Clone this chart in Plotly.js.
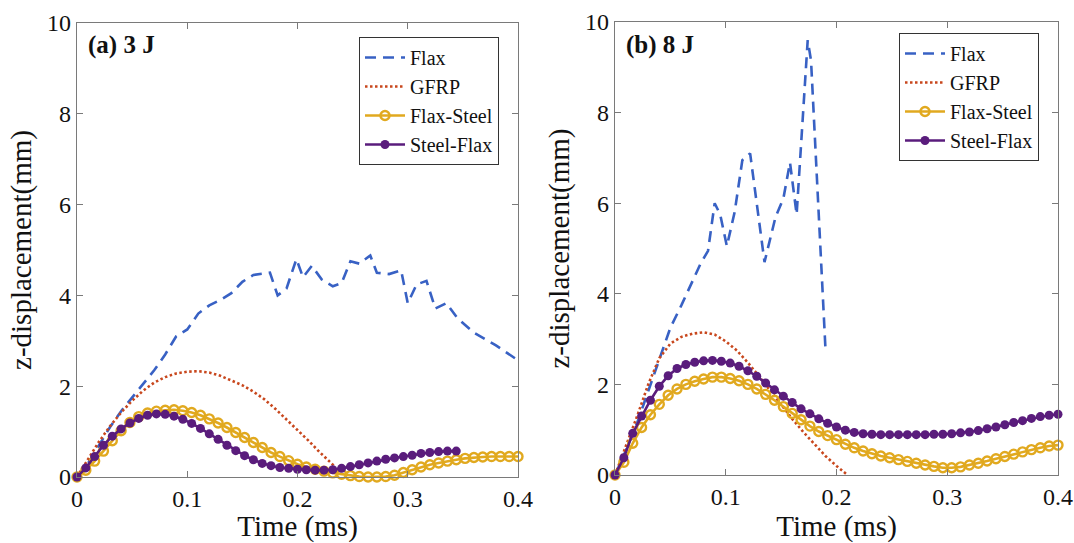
<!DOCTYPE html>
<html>
<head>
<meta charset="utf-8">
<script src="https://cdn.plot.ly/plotly-3.0.1.min.js"></script>
<style>html,body{margin:0;padding:0;background:#fff;}#chart{width:1074px;height:543px;}</style>
</head>
<body>
<div id="chart"></div>
<script>
// ---------- Data: (a) 3 J ----------
const flaxA_t = [0, 0.01, 0.02, 0.03, 0.04, 0.05, 0.06, 0.07, 0.08, 0.09, 0.1, 0.11, 0.12, 0.13, 0.14, 0.15, 0.16, 0.175, 0.182, 0.19, 0.199, 0.205, 0.213, 0.222, 0.232, 0.24, 0.248, 0.256, 0.266, 0.272, 0.283, 0.294, 0.3, 0.308, 0.317, 0.325, 0.335, 0.345, 0.36, 0.38, 0.4];
const flaxA_z = [0, 0.3, 0.7, 1.1, 1.45, 1.75, 2.05, 2.35, 2.7, 3.1, 3.25, 3.6, 3.78, 3.9, 4.05, 4.3, 4.45, 4.5, 4.0, 4.15, 4.8, 4.4, 4.65, 4.35, 4.2, 4.27, 4.75, 4.7, 4.88, 4.5, 4.47, 4.55, 3.83, 4.24, 4.32, 3.71, 3.83, 3.5, 3.18, 2.9, 2.57];

const gfrpA_t = [0, 0.01, 0.02, 0.03, 0.04, 0.05, 0.06, 0.07, 0.08, 0.09, 0.1, 0.11, 0.12, 0.13, 0.14, 0.15, 0.16, 0.17, 0.18, 0.19, 0.2, 0.21, 0.22, 0.233];
const gfrpA_z = [0, 0.4, 0.78, 1.12, 1.42, 1.68, 1.9, 2.08, 2.2, 2.28, 2.32, 2.33, 2.3, 2.23, 2.13, 2.02, 1.88, 1.71, 1.5, 1.27, 1.02, 0.8, 0.55, 0.25];

const timeA_fs = [0, 0.008, 0.016, 0.024, 0.032, 0.04, 0.048, 0.056, 0.064, 0.072, 0.08, 0.088, 0.096, 0.104, 0.112, 0.12, 0.128, 0.136, 0.144, 0.152, 0.16, 0.168, 0.176, 0.184, 0.192, 0.2, 0.208, 0.216, 0.224, 0.232, 0.24, 0.248, 0.256, 0.264, 0.272, 0.28, 0.288, 0.296, 0.304, 0.312, 0.32, 0.328, 0.336, 0.344, 0.352, 0.36, 0.368, 0.376, 0.384, 0.392, 0.4];
const flaxSteelA_z = [0, 0.15, 0.35, 0.57, 0.8, 1.02, 1.2, 1.33, 1.41, 1.45, 1.47, 1.48, 1.46, 1.42, 1.36, 1.28, 1.19, 1.09, 0.98, 0.87, 0.76, 0.65, 0.54, 0.45, 0.36, 0.28, 0.22, 0.17, 0.13, 0.09, 0.06, 0.03, 0.01, 0.0, 0.0, 0.01, 0.04, 0.1, 0.16, 0.22, 0.27, 0.31, 0.35, 0.38, 0.41, 0.43, 0.44, 0.45, 0.45, 0.45, 0.45];

const timeA_sf = [0, 0.008, 0.016, 0.024, 0.032, 0.04, 0.048, 0.056, 0.064, 0.072, 0.08, 0.088, 0.096, 0.104, 0.112, 0.12, 0.128, 0.136, 0.144, 0.152, 0.16, 0.168, 0.176, 0.184, 0.192, 0.2, 0.208, 0.216, 0.224, 0.232, 0.24, 0.248, 0.256, 0.264, 0.272, 0.28, 0.288, 0.296, 0.304, 0.312, 0.32, 0.328, 0.336, 0.344];
const steelFlaxA_z = [0, 0.2, 0.45, 0.7, 0.9, 1.06, 1.19, 1.29, 1.36, 1.39, 1.38, 1.34, 1.27, 1.18, 1.07, 0.95, 0.83, 0.7, 0.58, 0.47, 0.38, 0.3, 0.25, 0.21, 0.19, 0.17, 0.16, 0.15, 0.15, 0.16, 0.19, 0.23, 0.27, 0.31, 0.35, 0.39, 0.42, 0.45, 0.48, 0.52, 0.54, 0.56, 0.57, 0.57];

// ---------- Data: (b) 8 J ----------
const flaxB_t = [0, 0.01, 0.02, 0.03, 0.04, 0.05, 0.06, 0.07, 0.077, 0.084, 0.09, 0.095, 0.101, 0.108, 0.115, 0.122, 0.135, 0.145, 0.152, 0.158, 0.164, 0.174, 0.177, 0.19];
const flaxB_z = [0, 0.55, 1.15, 1.85, 2.55, 3.25, 3.75, 4.3, 4.65, 4.95, 6.0, 5.75, 5.05, 5.8, 6.95, 7.1, 4.7, 5.7, 6.1, 6.9, 5.75, 9.6, 9.15, 2.8];

const gfrpB_t = [0, 0.01, 0.02, 0.03, 0.04, 0.05, 0.06, 0.07, 0.08, 0.09, 0.1, 0.11, 0.12, 0.13, 0.14, 0.15, 0.16, 0.17, 0.18, 0.19, 0.2, 0.21];
const gfrpB_z = [0, 0.65, 1.3, 2.0, 2.58, 2.9, 3.05, 3.12, 3.15, 3.1, 2.95, 2.75, 2.48, 2.18, 1.86, 1.55, 1.24, 0.95, 0.68, 0.42, 0.2, 0];

const timeB = [0, 0.008, 0.016, 0.024, 0.032, 0.04, 0.048, 0.056, 0.064, 0.072, 0.08, 0.088, 0.096, 0.104, 0.112, 0.12, 0.128, 0.136, 0.144, 0.152, 0.16, 0.168, 0.176, 0.184, 0.192, 0.2, 0.208, 0.216, 0.224, 0.232, 0.24, 0.248, 0.256, 0.264, 0.272, 0.28, 0.288, 0.296, 0.304, 0.312, 0.32, 0.328, 0.336, 0.344, 0.352, 0.36, 0.368, 0.376, 0.384, 0.392, 0.4];
const flaxSteelB_z = [0, 0.28, 0.7, 1.05, 1.33, 1.56, 1.76, 1.9, 2.0, 2.07, 2.12, 2.16, 2.16, 2.13, 2.08, 2.0, 1.9, 1.78, 1.65, 1.51, 1.36, 1.22, 1.08, 0.96, 0.87, 0.78, 0.68, 0.6, 0.53, 0.47, 0.42, 0.38, 0.34, 0.3, 0.26, 0.22, 0.19, 0.16, 0.16, 0.18, 0.22, 0.26, 0.31, 0.36, 0.41, 0.46, 0.51, 0.56, 0.6, 0.64, 0.66];
const steelFlaxB_z = [0, 0.38, 0.92, 1.3, 1.65, 1.96, 2.19, 2.35, 2.44, 2.49, 2.52, 2.53, 2.51, 2.47, 2.4, 2.3, 2.18, 2.03, 1.88, 1.74, 1.6, 1.46, 1.35, 1.24, 1.14, 1.06, 0.99, 0.94, 0.91, 0.9, 0.89, 0.89, 0.89, 0.89, 0.89, 0.89, 0.9, 0.9, 0.91, 0.93, 0.95, 0.98, 1.02, 1.06, 1.11, 1.16, 1.2, 1.25, 1.29, 1.32, 1.34];

const seriesNames = ['Flax', 'GFRP', 'Flax-Steel', 'Steel-Flax'];
const panelLabels = ['<b>(a) 3 J</b>', '<b>(b) 8 J</b>'];
const xTitle = 'Time (ms)';
const yTitle = 'z-displacement(mm)';

// ---------- Styles ----------
const FONT = '"Liberation Serif", "DejaVu Serif", serif';
const C_BLUE = '#3861c4', C_RED = '#c8471d', C_GOLD = '#e1a91f', C_PURPLE = '#5a1c7c';

function makeTraces(xa, ya, leg, fl, gf, fs, sf) {
  return [
    {x: fl[0], y: fl[1], name: seriesNames[0], xaxis: xa, yaxis: ya, legend: leg, mode: 'lines', cliponaxis: false,
     line: {color: C_BLUE, width: 2.6, dash: '11px,7px'}},
    {x: gf[0], y: gf[1], name: seriesNames[1], xaxis: xa, yaxis: ya, legend: leg, mode: 'lines', cliponaxis: false,
     line: {color: C_RED, width: 2.6, dash: '2.5px,2.5px'}},
    {x: fs[0], y: fs[1], name: seriesNames[2], xaxis: xa, yaxis: ya, legend: leg, mode: 'lines+markers', cliponaxis: false,
     line: {color: C_GOLD, width: 2.6},
     marker: {symbol: 'circle-open', size: 9, color: C_GOLD, line: {width: 2.4, color: C_GOLD}}},
    {x: sf[0], y: sf[1], name: seriesNames[3], xaxis: xa, yaxis: ya, legend: leg, mode: 'lines+markers', cliponaxis: false,
     line: {color: C_PURPLE, width: 2.6},
     marker: {symbol: 'circle', size: 9, color: C_PURPLE}}
  ];
}

const data = [].concat(
  makeTraces('x', 'y', 'legend', [flaxA_t, flaxA_z], [gfrpA_t, gfrpA_z], [timeA_fs, flaxSteelA_z], [timeA_sf, steelFlaxA_z]),
  makeTraces('x2', 'y2', 'legend2', [flaxB_t, flaxB_z], [gfrpB_t, gfrpB_z], [timeB, flaxSteelB_z], [timeB, steelFlaxB_z])
);

const W = 1074, H = 543;
function xAxis(domain, anchor) {
  return {domain: domain, anchor: anchor, range: [0, 0.4], dtick: 0.1, tick0: 0,
    showgrid: false, zeroline: false, showline: true, mirror: 'ticks', linecolor: '#7a7a7a', linewidth: 1.2,
    ticks: 'inside', ticklen: 6, tickcolor: '#7a7a7a', tickwidth: 1,
    tickfont: {family: FONT, size: 24, color: '#111'},
    title: {text: xTitle, font: {family: FONT, size: 29, color: '#111'}, standoff: 2}};
}
function yAxis(domain, anchor) {
  return {domain: domain, anchor: anchor, range: [0, 10], dtick: 2, tick0: 0,
    showgrid: false, zeroline: false, showline: true, mirror: 'ticks', linecolor: '#7a7a7a', linewidth: 1.2,
    ticks: 'inside', ticklen: 6, tickcolor: '#7a7a7a', tickwidth: 1,
    tickfont: {family: FONT, size: 24, color: '#111'},
    title: {text: yTitle, font: {family: FONT, size: 29, color: '#111'}, standoff: 6}};
}
function legendAt(px, py) {
  return {x: px / W, y: 1 - py / H, xanchor: 'left', yanchor: 'top', xref: 'paper', yref: 'paper',
    bgcolor: '#ffffff', bordercolor: '#333', borderwidth: 1, tracegroupgap: 0, itemwidth: 40,
    font: {family: FONT, size: 20, color: '#111'}};
}

const layout = {
  width: W, height: H,
  margin: {l: 0, r: 0, t: 0, b: 0},
  font: {family: FONT, color: '#111'},
  paper_bgcolor: '#ffffff', plot_bgcolor: '#ffffff',
  showlegend: true,
  xaxis: xAxis([77 / W, 518 / W], 'y'),
  yaxis: yAxis([1 - 477 / H, 1 - 23 / H], 'x'),
  xaxis2: xAxis([615 / W, 1058 / W], 'y2'),
  yaxis2: yAxis([1 - 475 / H, 1 - 22 / H], 'x2'),
  legend: legendAt(359, 37),
  legend2: legendAt(899, 33),
  annotations: [
    {text: panelLabels[0], xref: 'paper', yref: 'paper', x: 86 / W, y: 1 - 45 / H, xanchor: 'left', yanchor: 'middle',
     showarrow: false, font: {family: FONT, size: 25, color: '#111'}},
    {text: panelLabels[1], xref: 'paper', yref: 'paper', x: 624 / W, y: 1 - 45 / H, xanchor: 'left', yanchor: 'middle',
     showarrow: false, font: {family: FONT, size: 25, color: '#111'}}
  ]
};

Plotly.newPlot('chart', data, layout, {displayModeBar: false, staticPlot: true});
</script>
</body>
</html>
